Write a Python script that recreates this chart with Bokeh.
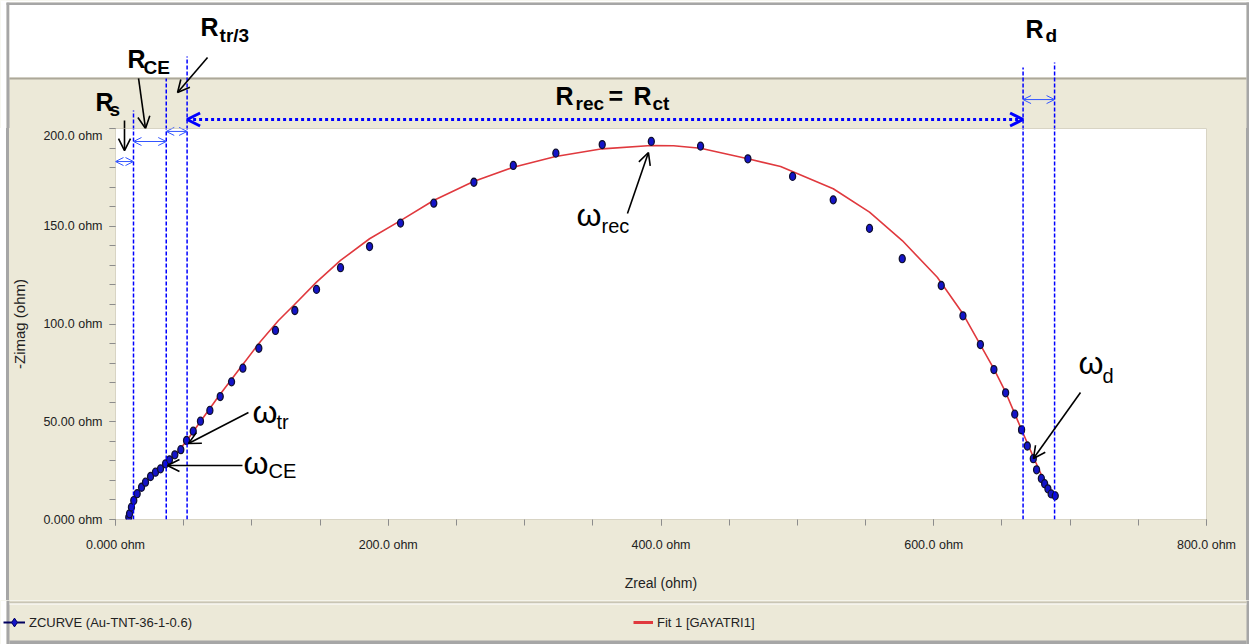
from bokeh.plotting import figure
from bokeh.layouts import column
from bokeh.models import (Range1d, FixedTicker, Arrow, OpenHead, Label, BoxAnnotation,
                          Legend, LegendItem)
from bokeh.embed import file_html
from bokeh.resources import INLINE

# Measured Nyquist data, ZCURVE (Au-TNT-36-1-0.6), in ohm
z_real = [9.75, 10.3, 11.7, 13.4, 15.9, 19.1, 22.0, 25.7, 29.3, 33.0, 36.7, 39.6, 43.5,
          47.9, 52.1, 57.0, 62.3, 69.2, 76.8, 85.1, 93.4, 105.1, 117.3, 131.5, 147.4,
          165.0, 186.3, 209.0, 233.4, 262.8, 291.7, 322.9, 356.9, 392.9, 429.0, 463.7,
          496.5, 526.3, 552.9, 576.9, 605.5, 621.4, 634.2, 644.1, 652.7, 659.4, 664.4,
          668.6, 673.0, 675.4, 678.9, 681.3, 683.7, 686.1, 689.1]
z_imag = [1.2, 2.9, 6.3, 9.7, 13.2, 16.5, 19.1, 22.0, 24.2, 25.9, 28.5, 30.5, 33.1,
          35.7, 40.4, 45.2, 50.3, 55.8, 62.9, 70.4, 77.4, 87.6, 96.7, 106.9, 117.7,
          128.8, 139.6, 151.6, 161.8, 172.5, 181.1, 187.4, 191.8, 193.4, 191.0, 184.5,
          175.5, 163.5, 148.9, 133.4, 119.7, 104.2, 89.5, 76.7, 64.8, 53.9, 45.9,
          37.6, 31.1, 25.4, 21.0, 18.3, 15.7, 13.1, 12.1]

# Equivalent-circuit fit, Fit 1 [GAYATRI1]
fit_real = [9.5, 10.6, 12.5, 15.9, 22.0, 29.3, 36.7, 44.0, 52.1, 62.3, 75.5, 91.7,
            106.3, 119.5, 131.3, 147.4, 165.0, 186.3, 209.0, 233.2, 262.5, 291.7,
            322.7, 356.9, 392.9, 409.2, 429.0, 463.7, 487.7, 526.3, 552.9, 576.9,
            602.6, 621.4, 634.1, 644.1, 652.7, 664.4, 673.2, 680.8, 689.1]
fit_imag = [0.0, 4.6, 8.7, 13.2, 18.9, 24.0, 28.4, 33.3, 40.2, 50.1, 62.9, 77.8,
            91.1, 101.8, 110.0, 121.4, 132.5, 143.6, 152.9, 163.2, 172.9, 180.2,
            185.7, 189.6, 191.3, 191.2, 189.9, 184.5, 180.6, 169.2, 157.2, 142.7,
            123.9, 105.2, 89.5, 77.1, 65.1, 45.9, 31.7, 19.9, 11.8]

x_ticks = [0, 200, 400, 600, 800]
x_tick_labels = ["0.000 ohm", "200.0 ohm", "400.0 ohm", "600.0 ohm", "800.0 ohm"]
y_ticks = [0, 50, 100, 150, 200]
y_tick_labels = ["0.000 ohm", "50.00 ohm", "100.0 ohm", "150.0 ohm", "200.0 ohm"]

# Resistance boundaries along Zreal (ohm)
r_s, r_ce, r_tr, r_rec, r_d = 13.2, 37.2, 52.5, 665.5, 688.6

BEIGE = "#ECE9D8"
EDGE = "#A6A6A6"
FONT = "Liberation Sans"
W = 1249

# ---------- header strip (annotation area above the plot) ----------
# same Zreal/-Zimag mapping as the plot below, extended over the whole strip
top = figure(width=W, height=128, min_border=0, x_range=Range1d(-84.33, 831.53),
             y_range=Range1d(200.0, 265.47), x_axis_type=None, y_axis_type=None,
             output_backend="svg", toolbar_location=None,
             background_fill_color=BEIGE, border_fill_color=BEIGE,
             outline_line_color=None)
top.grid.visible = False

# ---------- main Nyquist plot ----------
p = figure(frame_width=1091, frame_height=391,
           min_border_left=115, min_border_right=43,
           min_border_top=0, min_border_bottom=81,
           x_range=Range1d(0, 800), y_range=Range1d(0, 200),
           output_backend="svg", toolbar_location=None,
           border_fill_alpha=0, background_fill_color="white",
           outline_line_color="#D8D4C4",
           styles={"background": "linear-gradient(to right, #FFFFFF 0px, #FFFFFF 6px, "
                                 f"{EDGE} 6px, {EDGE} 9px, {BEIGE} 9px, {BEIGE} 1246px, "
                                 f"{EDGE} 1246px, {EDGE} 1249px)"})
p.grid.visible = False

# ---------- legend strip ----------
leg = figure(width=W, height=44, min_border=0, x_range=Range1d(0, W), y_range=Range1d(0, 44),
             x_axis_type=None, y_axis_type=None, output_backend="svg",
             toolbar_location=None, background_fill_color=BEIGE,
             border_fill_color=BEIGE, outline_line_color=None)
leg.grid.visible = False

# keep each strip's frame where it is placed (no cross-strip frame alignment)
for fig in (top, p, leg):
    if "frame_align" in fig.properties():
        fig.frame_align = False


def box(fig, left, right, bottom, top_, color):
    fig.add_layout(BoxAnnotation(left=left, right=right, top=top_, bottom=bottom,
                                 fill_color=color, fill_alpha=1, line_color=None,
                                 level="underlay"))


# window chrome in the header strip
box(top, -84.33, -79.93, 200.0, 265.47, "white")
box(top, -79.93, -77.73, 200.0, 264.45, EDGE)
box(top, -84.33, 831.53, 264.45, 265.47, "white")
box(top, -79.93, 831.53, 263.17, 264.45, EDGE)
box(top, -77.73, 829.33, 226.1, 263.17, "white")
box(top, -77.73, 829.33, 225.06, 226.1, "#ACA899")
box(top, 829.33, 831.53, 200.0, 264.45, EDGE)

# window chrome in the legend strip
box(leg, 0, 6, 0, 44, "white")
box(leg, 6, 9, 0, 44, EDGE)
box(leg, 1246, W, 0, 44, EDGE)
box(leg, 9, 1246, 41, 43, "#C9C5B5")
box(leg, 9, 1246, 40, 41, "white")
box(leg, 9, 1246, 0, 4, EDGE)

# axes
for ax, ticks, labels, minor in ((p.xaxis, x_ticks, x_tick_labels, list(range(0, 801, 50))),
                                 (p.yaxis, y_ticks, y_tick_labels, list(range(0, 201, 10)))):
    ax.ticker = FixedTicker(ticks=ticks, minor_ticks=minor)
    ax.major_label_overrides = dict(zip(ticks, labels))
    ax.axis_line_color = None
    ax.major_tick_in = 0
    ax.minor_tick_in = 0
    ax.major_tick_out = 6
    ax.minor_tick_out = 6
    ax.major_tick_line_color = "#8C8C8C"
    ax.minor_tick_line_color = "#8C8C8C"
    ax.major_label_text_font = FONT
    ax.major_label_text_font_size = "12.5px"
    ax.major_label_text_color = "#222222"
    ax.axis_label_text_font = FONT
    ax.axis_label_text_font_style = "normal"
    ax.axis_label_text_color = "#222222"

p.xaxis.axis_label = "Zreal (ohm)"
p.yaxis.axis_label = "-Zimag (ohm)"
p.xaxis.axis_label_text_font_size = "14px"
p.yaxis.axis_label_text_font_size = "15px"
p.xaxis.major_label_standoff = 12
p.yaxis.major_label_standoff = 7
p.xaxis.axis_label_standoff = 20
p.yaxis.axis_label_standoff = 12

# data and fit
fit = p.line(fit_real, fit_imag, line_color="#E0393E", line_width=1.6)
pts = p.ellipse(z_real, z_imag, width=6, height=8, width_units="screen",
                height_units="screen", fill_color="#1414C8", line_color="#101030",
                line_width=1.3)

# legend swatches (style only, no visible marks)
NAN = [float("nan")]
sw_line = leg.line(x=NAN, y=NAN, line_color="#000060", line_width=2)
sw_pts = leg.scatter(x=NAN, y=NAN, marker="diamond", size=12, fill_color="#1414C8",
                     line_color="#000060")
sw_fit = leg.line(x=NAN, y=NAN, line_color="#E0393E", line_width=3)

for items, loc, gw in (([LegendItem(label="ZCURVE (Au-TNT-36-1-0.6)", renderers=[sw_line, sw_pts])], (3, 11), 22),
                       ([LegendItem(label="Fit 1 [GAYATRI1]", renderers=[sw_fit])], (633, 11), 20)):
    lg = Legend(items=items, location=loc, background_fill_alpha=0,
                border_line_color=None, padding=0, margin=0, glyph_width=gw,
                glyph_height=22, label_height=22, label_standoff=4,
                label_text_font=FONT, label_text_font_size="13px",
                label_text_color="#222222")
    leg.add_layout(lg)

BLUE = "#0000FF"
THIN = "#3355FF"


def add_marks(fig):
    # vertical boundary lines
    for xv, ytop in ((r_s, 209.2), (r_ce, 225.6), (r_tr, 236.8), (r_rec, 231.2), (r_d, 233.8)):
        fig.add_layout(Arrow(x_start=xv, y_start=0, x_end=xv, y_end=ytop, start=None,
                             end=None, line_color=BLUE, line_width=1.5, line_dash="4 2"))
    # dimension arrows between boundaries
    for x0, x1, yv in ((0, r_s, 183.1), (r_s, r_ce, 193.35), (r_ce, r_tr, 198.5),
                       (r_rec, r_d, 214.8)):
        fig.add_layout(Arrow(x_start=x0, y_start=yv, x_end=x1, y_end=yv,
                             start=OpenHead(size=8, line_color=THIN, line_width=1),
                             end=OpenHead(size=8, line_color=THIN, line_width=1),
                             line_color=THIN, line_width=1))
    fig.add_layout(Arrow(x_start=r_tr, y_start=204.6, x_end=r_rec, y_end=204.6,
                         start=OpenHead(size=13, line_color=BLUE, line_width=3),
                         end=OpenHead(size=13, line_color=BLUE, line_width=3),
                         line_color=BLUE, line_width=3, line_dash="3 3"))
    # pointer arrows
    for xs, ys, xe, ye in ((6.6, 204.1, 6.6, 188.7),
                           (16.9, 225.6, 22.0, 200.0),
                           (67.5, 236.3, 45.5, 218.4),
                           (97.5, 54.7, 53.5, 38.9),
                           (93.1, 27.6, 38.1, 27.6),
                           (375.4, 156.5, 390.8, 187.7),
                           (707.6, 65.0, 673.1, 31.2)):
        fig.add_layout(Arrow(x_start=xs, y_start=ys, x_end=xe, y_end=ye,
                             end=OpenHead(size=12, line_color="black", line_width=1.6),
                             line_color="black", line_width=1.6))


add_marks(top)
add_marks(p)


def txt(fig, x, y, s, size, bold=False):
    # y is the glyph baseline; lift by the font descent so the baseline lands on y
    fig.add_layout(Label(x=x, y=y, text=s, text_font=FONT, text_font_size=f"{size}px",
                         text_font_style="bold" if bold else "normal",
                         text_color="black", text_align="left",
                         text_baseline="alphabetic", y_offset=round(0.37 * size)))


# resistance labels
txt(top, -14.7, 209.2, "R", 25, True); txt(top, -4.4, 206.1, "s", 19, True)
txt(top, 8.8, 230.7, "R", 25, True); txt(top, 20.5, 227.6, "CE", 19, True)
txt(top, 62.3, 247.1, "R", 25, True); txt(top, 76.3, 244.0, "tr/3", 19, True)
txt(top, 667.3, 246.5, "R", 25, True); txt(top, 681.9, 244.0, "d", 19, True)
txt(top, 322.6, 211.8, "R", 25, True); txt(top, 337.3, 209.2, "rec", 19, True)
txt(top, 361.5, 211.8, "=", 25, True)
txt(top, 379.8, 211.8, "R", 25, True); txt(top, 393.8, 209.2, "ct", 19, True)

# characteristic frequency labels
txt(p, 100.5, 49.1, "ω", 32); txt(p, 118.1, 46.5, "tr", 20)
txt(p, 93.9, 23.0, "ω", 32); txt(p, 112.2, 21.0, "CE", 20)
txt(p, 338.0, 149.4, "ω", 32); txt(p, 356.4, 146.3, "rec", 20)
txt(p, 706.1, 73.7, "ω", 32); txt(p, 723.7, 69.6, "d", 20)

layout = column(top, p, leg, spacing=0)
open("out.html", "w").write(file_html(layout, INLINE))
